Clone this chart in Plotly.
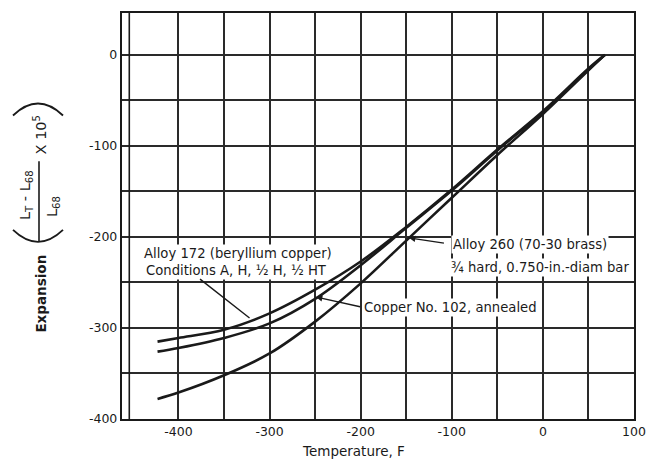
import plotly.graph_objects as go

# ---- data ----
temp_f = [-423, -400, -350, -300, -250, -200, -150, -100, -50, 0, 50, 68]
alloy172 = [-315, -311, -302, -284, -258, -227, -189, -148, -104, -62, -15, 0]
copper102 = [-326, -322, -311, -295, -268, -231, -190, -149, -105, -63, -16, 0]
alloy260 = [-378, -371, -352, -328, -293, -251, -204, -157, -110, -65, -17, 0]

x_tick_vals = [-400, -350, -300, -250, -200, -150, -100, -50, 0, 50, 100]
x_tick_text = ["-400", "", "-300", "", "-200", "", "-100", "", "0", "", "100"]
y_tick_vals = [-400, -350, -300, -250, -200, -150, -100, -50, 0]
y_tick_text = ["-400", "", "-300", "", "-200", "", "-100", "", "0"]

# ---- layout geometry (page has an 8px body margin) ----
PAGE_OFF = 8
W, H = 665 - PAGE_OFF, 463 - PAGE_OFF
ML, MR, MT, MB = 122 - PAGE_OFF, 31, 11 - PAGE_OFF, 44
PW, PH = W - ML - MR, H - MT - MB
X_RANGE = [-462, 100]
Y_RANGE = [-400, 46]
EXTRA_LEFT_LINE = -454
FONT = "DejaVu Sans"
INK = "#1a1a1a"


def xp(px):
    """reference-screen x pixel -> paper fraction"""
    return (px - PAGE_OFF - ML) / PW


def yp(py):
    """reference-screen y pixel -> paper fraction"""
    return (H - MB - (py - PAGE_OFF)) / PH


fig = go.Figure()
for vals in (alloy172, copper102, alloy260):
    fig.add_trace(go.Scatter(
        x=temp_f, y=vals, mode="lines",
        line=dict(color=INK, width=2.6, shape="spline", smoothing=1.0),
        showlegend=False, hoverinfo="skip"))

axis_common = dict(
    showgrid=True, gridcolor="#2a2a2a", gridwidth=1.6,
    showline=True, linecolor=INK, linewidth=2.4, mirror=True,
    zeroline=False, ticks="",
    tickfont=dict(family=FONT, size=12.5, color=INK),
)
fig.update_xaxes(range=X_RANGE, tickmode="array", tickvals=x_tick_vals,
                 ticktext=x_tick_text, **axis_common)
fig.update_yaxes(range=Y_RANGE, tickmode="array", tickvals=y_tick_vals,
                 ticktext=y_tick_text, **axis_common)

shapes = [
    dict(type="line", xref="x", yref="paper", x0=EXTRA_LEFT_LINE, x1=EXTRA_LEFT_LINE,
         y0=0, y1=1, line=dict(color=INK, width=1.6)),
    # fraction bar of y title
    dict(type="line", xref="paper", yref="paper", x0=xp(39), x1=xp(39),
         y0=yp(160), y1=yp(241), line=dict(color=INK, width=1.6)),
    # big parentheses drawn as arcs
    dict(type="path", xref="paper", yref="paper",
         path=f"M {xp(13)},{yp(229)} Q {xp(38)},{yp(253)} {xp(63)},{yp(229)}",
         line=dict(color=INK, width=1.8)),
    dict(type="path", xref="paper", yref="paper",
         path=f"M {xp(13)},{yp(114)} Q {xp(38)},{yp(90)} {xp(63)},{yp(114)}",
         line=dict(color=INK, width=1.8)),
]

lab_font = dict(family=FONT, size=13.2, color=INK)
ann = []


def text_at(px, py, text, **kw):
    d = dict(xref="paper", yref="paper", x=xp(px), y=yp(py), text=text,
             showarrow=False, font=lab_font, xanchor="left", yanchor="middle",
             bgcolor="white", borderpad=1)
    d.update(kw)
    ann.append(d)


text_at(142, 253, "Alloy 172 (beryllium copper)")
text_at(144, 270, "Conditions A, H, ½ H, ½ HT")
text_at(451, 244, "Alloy 260 (70-30 brass)")
text_at(449, 267, "¾ hard, 0.750-in.-diam bar")
text_at(362, 307, "Copper No. 102, annealed")

# leader lines (tail -> head), in data units
leaders = [
    ((-378, -245), (-322, -289), 0),
    ((-199, -277), (-249, -266), 2),
    ((-107, -207), (-147, -201), 2),
]
for (tx, ty), (hx, hy), head in leaders:
    ann.append(dict(xref="x", yref="y", axref="x", ayref="y",
                    x=hx, y=hy, ax=tx, ay=ty, text="", showarrow=True,
                    arrowhead=head, arrowsize=0.9, arrowwidth=1.4,
                    arrowcolor=INK, standoff=0, startstandoff=0))

# axis titles
ann.append(dict(xref="paper", yref="paper", x=xp(353), y=yp(451),
                text="Temperature, F", showarrow=False,
                font=dict(family=FONT, size=13.5, color=INK),
                xanchor="center", yanchor="middle"))
title_font = dict(family=FONT, size=14.5, color=INK)
ann.append(dict(xref="paper", yref="paper", x=xp(41), y=yp(293),
                text="<b>Expansion</b>", textangle=-90, showarrow=False,
                font=dict(family=FONT, size=13.5, color=INK),
                xanchor="center", yanchor="middle"))
ann.append(dict(xref="paper", yref="paper", x=xp(26), y=yp(194),
                text="L<sub>T</sub> - L<sub>68</sub>", textangle=-90,
                showarrow=False, font=title_font,
                xanchor="center", yanchor="middle"))
ann.append(dict(xref="paper", yref="paper", x=xp(53), y=yp(206),
                text="L<sub>68</sub>", textangle=-90, showarrow=False,
                font=title_font, xanchor="center", yanchor="middle"))
ann.append(dict(xref="paper", yref="paper", x=xp(40), y=yp(134),
                text="X 10<sup>5</sup>", textangle=-90, showarrow=False,
                font=title_font, xanchor="center", yanchor="middle"))

fig.update_layout(
    width=W, height=H,
    margin=dict(l=ML, r=MR, t=MT, b=MB, pad=0),
    paper_bgcolor="white", plot_bgcolor="white",
    shapes=shapes, annotations=ann,
    font=dict(family=FONT, color=INK),
)

fig.write_html("out.html")
